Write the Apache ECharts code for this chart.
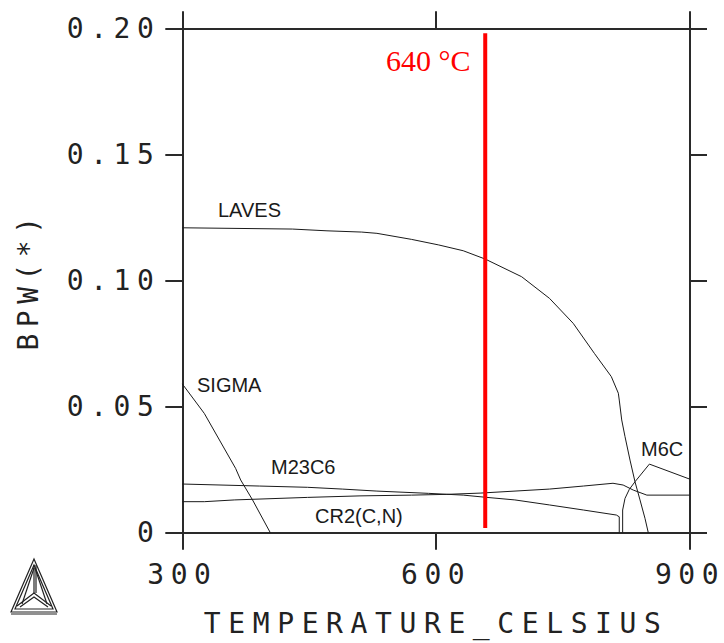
<!DOCTYPE html>
<html><head><meta charset="utf-8">
<script src="https://cdn.jsdelivr.net/npm/echarts@6/dist/echarts.min.js"></script>
<style>
html,body{margin:0;padding:0;background:#fff;}
#c{width:724px;height:643px;}
#c svg text[style*="Mono"], #c svg text[font-family*="Mono"]{letter-spacing:6.5px;}
</style></head><body><div id="c"></div>
<script>
// ---- data ----
const xTicks = [300, 600, 900];
const xTickLabels = ['300', '600', '900'];
const yTicks = [0, 0.05, 0.10, 0.15, 0.20];
const yTickLabels = ['0', '0.05', '0.10', '0.15', '0.20'];
const xName = 'TEMPERATURE_CELSIUS';
const yName = 'BPW(*)';

const lavesT = [300, 430, 471, 512, 530, 571, 603, 632, 658, 701, 734, 762, 787, 807, 815.3, 816.4, 819.3, 823.2, 829.1, 835, 840.9, 846.8, 850.7];
const lavesV = [0.1209, 0.1204, 0.1197, 0.1192, 0.1187, 0.1163, 0.1141, 0.1118, 0.1085, 0.1015, 0.0929, 0.0830, 0.0711, 0.0619, 0.0553, 0.0526, 0.0447, 0.0381, 0.0288, 0.0202, 0.0130, 0.0057, 0];

const sigmaT = [300, 326, 363, 369, 383, 404];
const sigmaV = [0.0590, 0.0473, 0.0255, 0.0209, 0.0130, 0];

const m23c6T = [300, 391, 448, 489, 530, 591, 632, 660, 693, 734, 774, 813, 816.4, 816.4];
const m23c6V = [0.0193, 0.0185, 0.0180, 0.0173, 0.0165, 0.0156, 0.0149, 0.0140, 0.0130, 0.0110, 0.0090, 0.0070, 0.0063, 0];

const cr2T = [300, 326, 362, 448, 510, 571, 612, 652, 734, 774, 809, 821, 833, 849, 900];
const cr2V = [0.0123, 0.0123, 0.0130, 0.0140, 0.0146, 0.0149, 0.0152, 0.0157, 0.0173, 0.0185, 0.0196, 0.0189, 0.0169, 0.0149, 0.0149];

const m6cT = [820.4, 820.4, 823.2, 828.3, 835, 852, 900];
const m6cV = [0, 0.0090, 0.0136, 0.0172, 0.0202, 0.0272, 0.0212];

const markerT = [658, 658];
const markerV = [0.0019, 0.198];
const markerLabel = '640 °C';

const phaseNames = ['LAVES', 'SIGMA', 'M23C6', 'CR2(C,N)', 'M6C'];

// ---- build ----
const pair = (t, v) => t.map((x, i) => [x, v[i]]);
const MONO = '"DejaVu Sans Mono", monospace';
const AX = '#2a2a2a';
const CURVE = '#1a1a1a';

function curve(name, t, v) {
  return {
    name, type: 'line', data: pair(t, v), showSymbol: false, symbol: 'none',
    lineStyle: { color: CURVE, width: 1 }, animation: false, silent: true, z: 3
  };
}

const chart = echarts.init(document.getElementById('c'), null, { renderer: 'svg' });

const axCommon = {
  type: 'value',
  axisLine: { show: true, onZero: false, lineStyle: { color: AX, width: 2 } },
  axisTick: { show: true, inside: false, length: 17, lineStyle: { color: AX, width: 2 } },
  splitLine: { show: false },
  minorTick: { show: false }
};

const labelPos = [
  { text: phaseNames[0], x: 218, y: 210 },
  { text: phaseNames[1], x: 197, y: 385 },
  { text: phaseNames[2], x: 271, y: 467 },
  { text: phaseNames[3], x: 315, y: 516 },
  { text: phaseNames[4], x: 641, y: 449 }
];

const logoStroke = { stroke: '#222', lineWidth: 1.2, fill: null };

chart.setOption({
  backgroundColor: '#fff',
  animation: false,
  grid: { left: 182.3, top: 28.3, right: 34, bottom: 110.3, containLabel: false, outerBoundsMode: 'none' },
  xAxis: [
    Object.assign({}, axCommon, {
      position: 'bottom', min: 300, max: 900, interval: 300,
      name: xName, nameLocation: 'middle', nameGap: 77,
      nameTextStyle: { fontFamily: MONO, fontSize: 28, color: '#222' },
      axisLabel: { show: true, margin: 28, fontFamily: MONO, fontSize: 28, color: '#222',
        formatter: v => xTickLabels[xTicks.indexOf(v)] ?? '' }
    }),
    Object.assign({}, axCommon, {
      position: 'top', min: 300, max: 900, interval: 300,
      axisLabel: { show: false }
    })
  ],
  yAxis: [
    Object.assign({}, axCommon, {
      position: 'left', min: 0, max: 0.2, interval: 0.05,
      name: yName, nameLocation: 'middle', nameGap: 140,
      nameTextStyle: { fontFamily: MONO, fontSize: 28, color: '#222' },
      axisLabel: { show: true, margin: 22, fontFamily: MONO, fontSize: 28, color: '#222',
        formatter: v => { const i = yTicks.findIndex(t => Math.abs(t - v) < 1e-9); return i >= 0 ? yTickLabels[i] : ''; } }
    }),
    Object.assign({}, axCommon, {
      position: 'right', min: 0, max: 0.2, interval: 0.05,
      axisLabel: { show: false }
    })
  ],
  series: [
    curve('LAVES', lavesT, lavesV),
    curve('SIGMA', sigmaT, sigmaV),
    curve('M23C6', m23c6T, m23c6V),
    curve('CR2(C,N)', cr2T, cr2V),
    curve('M6C', m6cT, m6cV),
    {
      name: 'marker', type: 'line', data: pair(markerT, markerV), showSymbol: false, symbol: 'none',
      lineStyle: { color: '#ff0000', width: 4 }, z: 5, silent: true
    }
  ],
  graphic: [
    ...labelPos.map(p => ({
      type: 'text', x: p.x, y: p.y, z: 10, silent: true,
      style: { text: p.text, font: '20px "Liberation Sans", Arial, sans-serif', fill: '#1a1a1a', verticalAlign: 'middle', align: 'left' }
    })),
    {
      type: 'text', x: 386, y: 60, z: 10, silent: true,
      style: { text: markerLabel, font: '30px "Liberation Serif", "Times New Roman", serif', fill: '#ff0000', verticalAlign: 'middle', align: 'left' }
    },
    {
      type: 'group', x: 0, y: 0, silent: true,
      children: [
        { type: 'polygon', shape: { points: [[34, 559], [11, 612], [57, 612]] }, style: logoStroke },
        { type: 'polygon', shape: { points: [[34, 565], [15, 609], [53, 609]] }, style: logoStroke },
        { type: 'polyline', shape: { points: [[34, 565], [34, 593]] }, style: logoStroke },
        { type: 'polyline', shape: { points: [[36, 565], [36, 593]] }, style: logoStroke },
        { type: 'polyline', shape: { points: [[17, 606], [34, 593], [51, 606]] }, style: logoStroke },
        { type: 'polyline', shape: { points: [[20, 607], [34, 597], [48, 607]] }, style: logoStroke },
        { type: 'polyline', shape: { points: [[34, 568], [22, 604]] }, style: logoStroke },
        { type: 'polyline', shape: { points: [[35, 568], [47, 604]] }, style: logoStroke },
        { type: 'polyline', shape: { points: [[11, 614], [57, 614]] }, style: logoStroke }
      ]
    }
  ]
});

function spaceMono() {
  document.querySelectorAll('#c svg text').forEach(t => {
    const ff = (t.getAttribute('font-family') || '') + (t.getAttribute('style') || '') + getComputedStyle(t).fontFamily;
    if (ff.indexOf('Mono') >= 0) {
      const len = (t.textContent || '').length;
      t.style.letterSpacing = len > 10 ? '7.6px' : '6.5px';
    }
  });
}
spaceMono();
chart.on('finished', spaceMono);
</script></body></html>
